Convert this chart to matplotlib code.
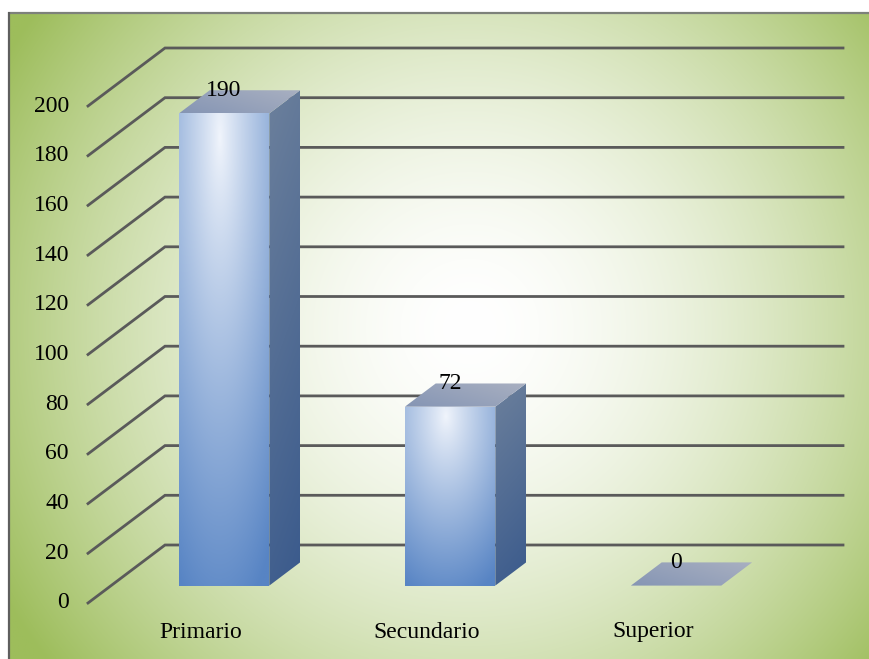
import numpy as np
import matplotlib
matplotlib.use("Agg")
import matplotlib.pyplot as plt
from matplotlib.patches import Polygon
from matplotlib.colors import to_rgb

categories = ["Primario", "Secundario", "Superior"]
values = [190, 72, 0]
y_ticks = [0, 20, 40, 60, 80, 100, 120, 140, 160, 180, 200]

W, H = 869, 659
FONT = "Liberation Serif"
FS = 17

# depth of the 3-D box in pixels (x to the right, y upwards)
DX, DY = 77.0, 58.0
BAR_W = 0.4
D0, D1 = 0.3, 0.7

fig = plt.figure(figsize=(W / 100, H / 100), dpi=100)

# full-figure pixel canvas for background, gradients and frame
bg = fig.add_axes([0, 0, 1, 1], zorder=0)
bg.set_xlim(0, W)
bg.set_ylim(H, 0)
bg.axis("off")

# value axes: front plane of the chart
ax = fig.add_axes([88 / W, (H - 603) / H, 678 / W, 497 / H], zorder=1)
ax.set_xlim(-0.5, len(categories) - 0.5)
ax.set_ylim(0, 200)
ax.axis("off")
ax.patch.set_alpha(0)


def proj(x, v, d):
    """Data point (category x, value v) pushed back by depth fraction d -> bg pixel coords."""
    px, py = ax.transData.transform((x, v))
    px += d * DX
    py += d * DY
    return bg.transData.inverted().transform((px, py))


def mix(c1, c2, t):
    c1 = np.array(to_rgb(c1))
    c2 = np.array(to_rgb(c2))
    t = np.clip(t, 0, 1)[..., None]
    return c1 * (1 - t) + c2 * t


def gradient_poly(pts, func, z, n=200):
    pts = np.asarray(pts)
    x0, y0 = pts.min(axis=0)
    x1, y1 = pts.max(axis=0)
    u, w = np.meshgrid(np.linspace(0, 1, n), np.linspace(0, 1, n))
    img = func(u, w)
    im = bg.imshow(img, extent=(x0, x1, y1, y0), origin="upper",
                   aspect="auto", zorder=z, interpolation="bilinear")
    clip = Polygon(pts, closed=True, transform=bg.transData, fc="none", ec="none")
    bg.add_patch(clip)
    im.set_clip_path(clip)


# background: broad white glow in the centre fading to green at the corners
gx = np.linspace(8, W, 400)
gy = np.linspace(12, H, 300)
GX, GY = np.meshgrid(gx, gy)
s = ((GX - 470) / 540) ** 2 + ((GY - 328) / 540) ** 2
bg_img = mix("#ffffff", "#9dbd5b", s ** 0.85)
bg.imshow(bg_img, extent=(8, W, H, 12), aspect="auto", zorder=0,
          interpolation="bilinear")

# frame
bg.plot([8, W], [12.5, 12.5], color="#7d817a", lw=1.6, zorder=1,
        solid_capstyle="butt")
bg.plot([8.5, 8.5], [12, H], color="#5f5f5f", lw=1.6, zorder=1,
        solid_capstyle="butt")

# gridlines running along the left wall and across the back wall
x_left, x_right = -0.5, len(categories) - 0.5
for v in y_ticks:
    a = proj(x_left, v, 0)
    b = proj(x_left, v, 1)
    c = proj(x_right, v, 1)
    bg.plot([a[0], b[0], c[0]], [a[1], b[1], c[1]], color="#5a5a5a",
            lw=2.0, zorder=2, solid_joinstyle="miter")
    bg.text(a[0] - 19, a[1], str(v), ha="right", va="center",
            fontsize=FS, family=FONT, color="black", zorder=5)


def front_grad(u, w):
    tt = np.sqrt(((u - 0.45) / 1.0) ** 2 + ((w - 0.05) / 1.05) ** 2)
    return mix("#f1f5fc", "#5784c4", tt ** 0.9)


def side_grad(u, w):
    return mix("#6c809c", "#3a5a8c", w * 0.85 + u * 0.15)


def top_grad(u, w):
    return mix("#8595b4", "#a9b0c1", 0.6 * u + 0.4 * (1 - w))


# 3-D bars
for i, (cat, v) in enumerate(zip(categories, values)):
    xa, xb = i - BAR_W / 2, i + BAR_W / 2
    top = [proj(xa, v, D0), proj(xb, v, D0), proj(xb, v, D1), proj(xa, v, D1)]
    if v > 0:
        front = [proj(xa, 0, D0), proj(xb, 0, D0), proj(xb, v, D0), proj(xa, v, D0)]
        side = [proj(xb, 0, D0), proj(xb, 0, D1), proj(xb, v, D1), proj(xb, v, D0)]
        gradient_poly(front, front_grad, 3)
        gradient_poly(side, side_grad, 3)
    gradient_poly(top, top_grad, 3)

    # value label sitting on the top face
    fx = proj(i, v, D0)[0]
    fy = proj(i, v, D1)[1]
    bg.text(fx, fy, str(v), ha="center", va="center", fontsize=FS,
            family=FONT, color="black", zorder=6)

    # category label under the front floor edge
    cx, cy = proj(i, 0, 0)
    bg.text(cx, cy + 29, cat, ha="center", va="center", fontsize=FS,
            family=FONT, color="black", zorder=6)

bg.set_xlim(0, W)
bg.set_ylim(H, 0)

fig.savefig("out.png", dpi=100, facecolor="white")
